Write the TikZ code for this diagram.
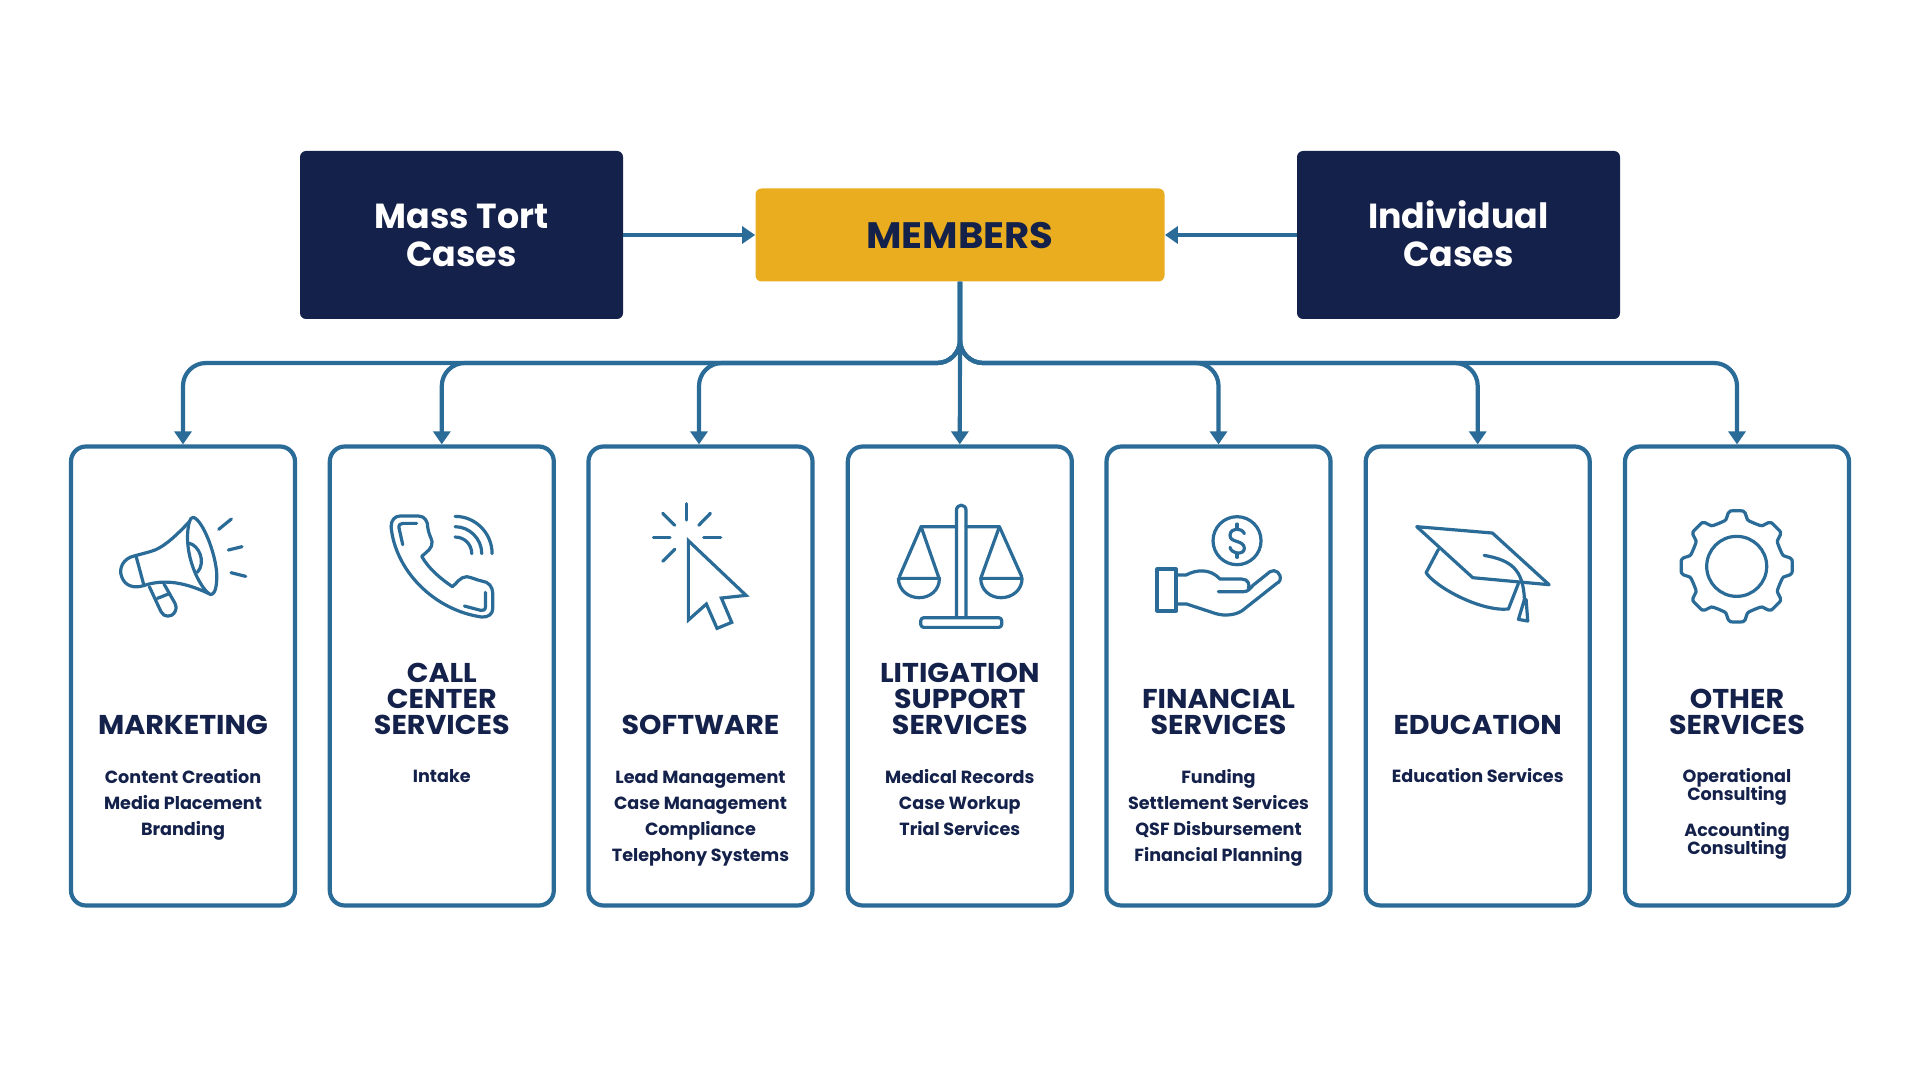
\documentclass[tikz,border=0pt]{standalone}
\usepackage{fontspec}
\setmainfont{Poppins}
\newfontfamily\widefont[FakeStretch=1.05]{Poppins}
\usetikzlibrary{arrows.meta}
\definecolor{navy}{HTML}{14214A}
\definecolor{gold}{HTML}{EBAD20}
\definecolor{steel}{HTML}{2A6C97}
\tikzset{
  darkbox/.style={fill=navy,text=white,rounded corners=3pt,minimum width=161.5pt,minimum height=84pt,align=center,text height=31.6pt,text depth=0pt,font=\fontsize{17.4}{19}\selectfont\bfseries},
  goldbox/.style={fill=gold,text=navy,rounded corners=3pt,minimum width=204.5pt,minimum height=46.5pt,text height=14pt,text depth=0pt,font=\widefont\fontsize{18.4}{19}\selectfont\bfseries},
  card/.style={draw=steel,line width=2.1pt,rounded corners=7.5pt,minimum width=112pt,minimum height=229.5pt,fill=white},
  cardtitle/.style={text=navy,align=center,inner sep=0pt,anchor=south,text depth=0pt,font=\widefont\fontsize{13.6}{13}\selectfont\bfseries},
  cardlist/.style={text=navy,align=center,inner sep=0pt,anchor=north,font=\fontsize{8.8}{13}\selectfont\bfseries},
  tightlist/.style={cardlist,font=\fontsize{8.8}{9}\selectfont\bfseries},
  flow/.style={draw=steel,line width=2.1pt,-{Triangle[length=6.5pt,width=8.5pt]}},
  busline/.style={flow,rounded corners=11.5pt},
  icon/.style={draw=steel,line width=1.6pt,line cap=round,line join=round},
}
\begin{document}
\begin{tikzpicture}[x=0.5pt,y=-0.5pt]
\useasboundingbox (0,0) rectangle (1920,1080);

\node[darkbox] (masstort) at (461.5,235) {Mass Tort\\Cases};
\node[goldbox] (members) at (960,235) {MEMBERS};
\node[darkbox] (individual) at (1458.5,235) {Individual\\Cases};

\node[card] (marketing) at (183,676) {};
\node[card] (callcenter) at (441.8,676) {};
\node[card] (software) at (700.5,676) {};
\node[card] (litigation) at (959.8,676) {};
\node[card] (financial) at (1218.5,676) {};
\node[card] (education) at (1477.7,676) {};
\node[card] (other) at (1737,676) {};

\coordinate (bus) at (960,363);

\draw[flow] (masstort) to (members);
\draw[flow] (individual) to (members);
\draw[busline] (members.south) -- (bus) -| (marketing.north);
\draw[busline] (members.south) -- (bus) -| (callcenter.north);
\draw[busline] (members.south) -- (bus) -| ([xshift=-0.75pt]software.north);
\draw[flow] (members.south) to (litigation.north);
\draw[busline] (members.south) -- (bus) -| (financial.north);
\draw[busline] (members.south) -- (bus) -| (education.north);
\draw[busline] (members.south) -- (bus) -| (other.north);

\node[cardtitle] (marketingtitle) at (183,734.5) {MARKETING};
\node[cardtitle] (callcentertitle) at (441.8,734.5) {CALL\\CENTER\\SERVICES};
\node[cardtitle] (softwaretitle) at (700.5,734.5) {SOFTWARE};
\node[cardtitle] (litigationtitle) at (959.8,734.5) {LITIGATION\\SUPPORT\\SERVICES};
\node[cardtitle] (financialtitle) at (1218.5,734.5) {FINANCIAL\\SERVICES};
\node[cardtitle] (educationtitle) at (1477.7,734.5) {EDUCATION};
\node[cardtitle] (othertitle) at (1737,734.5) {OTHER\\SERVICES};

\node[cardlist] (marketinglist) at (183,769) {Content Creation\\Media Placement\\Branding};
\node[cardlist] (callcenterlist) at (441.8,769) {Intake};
\node[cardlist] (softwarelist) at (700.5,770) {Lead Management\\Case Management\\Compliance\\Telephony Systems};
\node[cardlist] (litigationlist) at (959.8,769) {Medical Records\\Case Workup\\Trial Services};
\node[cardlist] (financiallist) at (1218.5,769) {Funding\\Settlement Services\\QSF Disbursement\\Financial Planning};
\node[cardlist] (educationlist) at (1477.7,768) {Education Services};
\node[tightlist] (otherlist) at (1737,768) {Operational\\[-1.3pt]Consulting\\[7.4pt]Accounting\\[-1.3pt]Consulting};

% megaphone
\begin{scope}[shift={(60,440)},x=0.1667pt,y=-0.1667pt]
\draw[icon] (400,232) .. controls (430,240) and (475,360) .. (470,420) .. controls (468,455) and (460,465) .. (450,463) .. controls (420,445) and (365,340) .. (388,245) .. controls (390,236) and (395,232) .. (400,232);
\draw[icon] (388,310) .. controls (415,315) and (440,365) .. (412,397);
\draw[icon] (390,243) .. controls (350,285) and (310,325) .. (270,335) -- (222,348) .. controls (190,355) and (175,385) .. (185,410) .. controls (195,440) and (225,445) .. (250,437) .. controls (300,420) and (360,420) .. (445,460);
\draw[icon] (228,348) -- (252,437);
\draw[icon] (268,440) -- (303,515) .. controls (312,533) and (335,533) .. (345,515) .. controls (350,505) and (348,495) .. (345,490) -- (312,432);
\draw[icon] (292,475) -- (325,462);
\draw[icon] (476,268) -- (514,237);
\draw[icon] (505,330) -- (546,320);
\draw[icon] (513,398) -- (557,409);
% phone
\draw[icon] (1020,228) -- (1075,228) .. controls (1095,228) and (1103,245) .. (1103,262) .. controls (1105,280) and (1112,290) .. (1116,305) .. controls (1118,325) and (1100,335) .. (1085,349) .. controls (1105,385) and (1140,415) .. (1177,440) .. controls (1190,430) and (1200,410) .. (1220,410) .. controls (1235,412) and (1250,420) .. (1265,423) .. controls (1285,425) and (1298,440) .. (1298,460) -- (1298,505) .. controls (1298,522) and (1285,532) .. (1265,531) .. controls (1120,510) and (1005,390) .. (993,260) .. controls (993,240) and (1005,228) .. (1020,228) -- cycle;
\draw[icon] (1028,314) -- (1017,265) .. controls (1015,255) and (1020,250) .. (1028,250) -- (1070,250);
\draw[icon] (1276,457) -- (1276,500) .. controls (1276,510) and (1270,512) .. (1262,511) -- (1213,498);
\draw[icon] (1185,291) .. controls (1213,291) and (1235,313) .. (1235,341);
\draw[icon] (1185,260) .. controls (1229,260) and (1265,297) .. (1265,341);
\draw[icon] (1185,229) .. controls (1246,229) and (1296,279) .. (1296,341);
\end{scope}

% cursor
\begin{scope}[shift={(590,440)},x=0.1667pt,y=-0.1667pt]
\draw[icon] (290,191) -- (290,240);
\draw[icon] (218,220) -- (254,256);
\draw[icon] (361,220) -- (326,256);
\draw[icon] (190,292) -- (240,292);
\draw[icon] (341,292) -- (392,292);
\draw[icon] (254,328) -- (218,364);
\draw[icon,line join=miter] (295,302) -- (468,466) -- (394,474) -- (425,547) -- (381,565) -- (349,492) -- (295,540) -- cycle;
% scales
\draw[icon] (1099,530) -- (1099,212) .. controls (1099,190) and (1128,190) .. (1128,212) -- (1128,530);
\draw[icon] (1099,260) -- (993,260) -- (928,410);
\draw[icon] (993,260) -- (1047,415);
\draw[icon] (1128,260) -- (1228,260) -- (1295,410);
\draw[icon] (1228,260) -- (1172,415);
\draw[icon] (925,415) -- (1048,415) .. controls (1048,450) and (1020,473) .. (987,473) .. controls (955,473) and (925,450) .. (925,415);
\draw[icon] (1172,415) -- (1296,415) .. controls (1296,450) and (1266,473) .. (1233,473) .. controls (1200,473) and (1172,450) .. (1172,415);
\draw[icon,rounded corners=1.5pt] (992,533) rectangle (1235,562);
\end{scope}

% hand and coin
\begin{scope}[shift={(1110,440)},x=0.1667pt,y=-0.1667pt]
\draw[icon] (381,302) circle[radius=72];
\draw[icon] (403,281) .. controls (395,262) and (362,262) .. (360,285) .. controls (358,310) and (402,298) .. (403,325) .. controls (402,346) and (364,342) .. (360,322);
\draw[icon] (381,252) -- (381,265);
\draw[icon] (381,340) -- (381,352);
\draw[icon,line width=2pt] (142,388) rectangle (198,512);
\draw[icon] (200,405) -- (228,405) .. controls (260,388) and (300,385) .. (330,417) -- (395,417) .. controls (415,417) and (420,435) .. (415,445);
\draw[icon] (325,455) -- (400,455) .. controls (415,455) and (420,445) .. (430,435) -- (480,395) .. controls (495,385) and (515,400) .. (510,420) .. controls (508,425) and (505,428) .. (500,430) -- (405,505) .. controls (385,525) and (345,530) .. (315,520) -- (230,492) -- (200,492);
% cap
\draw[icon] (920,260) -- (1147,279) -- (1317,434) -- (1088,413) -- cycle;
\draw[icon] (985,328) -- (948,398) .. controls (975,440) and (1110,515) .. (1195,507) -- (1225,430);
\draw[icon] (1122,346) .. controls (1200,360) and (1240,385) .. (1243,480);
\draw[icon] (1243,478) -- (1225,538) -- (1253,543) -- (1248,478) -- cycle;
\end{scope}

% gear
\begin{scope}[shift={(1640,440)},x=0.1667pt,y=-0.1667pt]
\draw[icon] (290,379) circle[radius=90];
\foreach \a in {0,45,...,315}
  \draw[icon,shift={(290,379)},rotate=\a,scale=0.98] (-54.5,-131.6) .. controls (-45,-136) and (-42,-137) .. (-38,-139) .. controls (-28,-143) and (-32,-155) .. (-26,-163) .. controls (-22,-170) and (-18,-170) .. (-14,-170) -- (14,-170) .. controls (18,-170) and (22,-170) .. (26,-163) .. controls (32,-155) and (28,-143) .. (38,-139) .. controls (42,-137) and (45,-136) .. (54.5,-131.6);
\end{scope}
\end{tikzpicture}
\end{document}
